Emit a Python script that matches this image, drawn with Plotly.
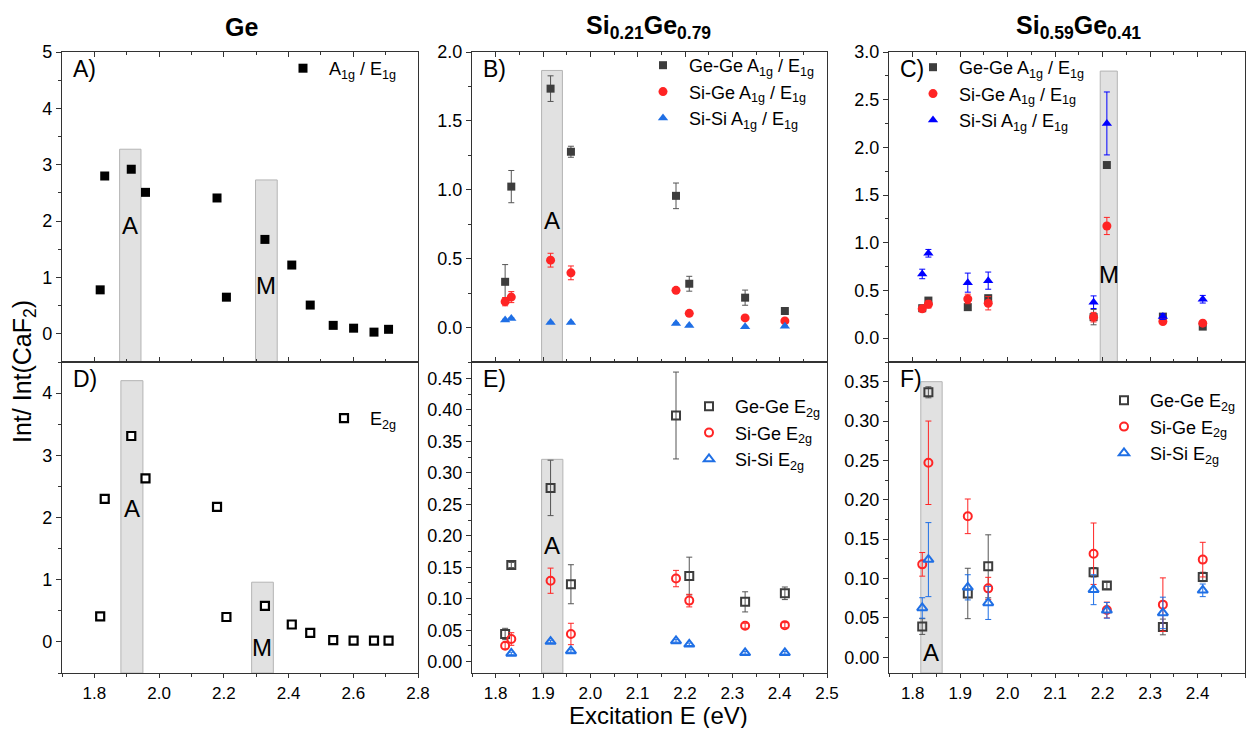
import plotly.graph_objects as go

W, H = 1259, 737
OX, OY = 8, 8            # page body margin of the HTML page
FW, FH = W - 2 * OX, H - 2 * OY

# ---------------- data ----------------
# Pure Ge (panels A, D)
ge_x = [1.818, 1.832, 1.914, 1.958, 2.179, 2.208, 2.327, 2.410, 2.467, 2.538, 2.601, 2.664, 2.709]
ge_a1g = [0.78, 2.80, 2.92, 2.51, 2.41, 0.65, 1.675, 1.22, 0.51, 0.15, 0.10, 0.03, 0.08]
ge_e2g = [0.41, 2.30, 3.31, 2.63, 2.17, 0.40, 0.58, 0.28, 0.145, 0.027, 0.02, 0.02, 0.02]

# Alloys: excitation energies
alloy_x = [1.820, 1.833, 1.916, 1.959, 2.181, 2.209, 2.327, 2.411]

# Si0.21Ge0.79 A1g/E1g (panel B)
b_gege = [0.332, 1.023, 1.734, 1.276, 0.956, 0.318, 0.217, 0.120]
b_gege_err = [0.125, 0.117, 0.093, 0.040, 0.093, 0.054, 0.055, 0.010]
b_sige = [0.188, 0.221, 0.489, 0.397, 0.270, 0.103, 0.070, 0.048]
b_sige_err = [0.030, 0.040, 0.050, 0.050, 0.010, 0.010, 0.010, 0.010]
b_sisi = [0.055, 0.065, 0.036, 0.036, 0.030, 0.015, 0.005, 0.010]
b_sisi_err = [0.005, 0.005, 0.004, 0.004, 0.004, 0.003, 0.003, 0.003]

# Si0.59Ge0.41 A1g/E1g (panel C)
c_gege = [0.314, 0.394, 0.325, 0.419, 0.220, 1.815, 0.226, 0.121]
c_gege_err = [0.020, 0.020, 0.020, 0.030, 0.080, 0.020, 0.020, 0.020]
c_sige = [0.307, 0.356, 0.411, 0.366, 0.220, 1.176, 0.174, 0.157]
c_sige_err = [0.030, 0.040, 0.050, 0.070, 0.050, 0.090, 0.020, 0.020]
c_sisi = [0.673, 0.890, 0.582, 0.603, 0.377, 2.251, 0.226, 0.408]
c_sisi_err = [0.050, 0.040, 0.100, 0.090, 0.066, 0.330, 0.030, 0.040]

# Si0.21Ge0.79 E2g (panel E)
e_gege = [0.044, 0.1535, 0.276, 0.123, 0.391, 0.136, 0.095, 0.1086]
e_gege_err = [0.009, 0.004, 0.044, 0.031, 0.069, 0.030, 0.016, 0.010]
e_sige = [0.0254, 0.036, 0.1286, 0.044, 0.132, 0.097, 0.057, 0.058]
e_sige_err = [0.005, 0.010, 0.020, 0.017, 0.013, 0.010, 0.004, 0.004]
e_sisi_x = [1.833, 1.916, 1.959, 2.181, 2.209, 2.327, 2.411]
e_sisi = [0.013, 0.032, 0.017, 0.033, 0.0276, 0.014, 0.014]
e_sisi_err = [0.002, 0.002, 0.002, 0.002, 0.002, 0.002, 0.002]

# Si0.59Ge0.41 E2g (panel F)
f_gege = [0.039, 0.3365, 0.081, 0.1155, 0.108, 0.091, 0.0385, 0.102]
f_gege_err = [0.010, 0.007, 0.032, 0.040, 0.006, 0.004, 0.010, 0.006]
f_sige = [0.118, 0.247, 0.179, 0.0875, 0.1315, 0.060, 0.0668, 0.124]
f_sige_err = [0.015, 0.053, 0.022, 0.014, 0.039, 0.010, 0.034, 0.022]
f_sisi = [0.0626, 0.124, 0.0888, 0.069, 0.0858, 0.0596, 0.0563, 0.085]
f_sisi_err = [0.013, 0.047, 0.016, 0.021, 0.019, 0.010, 0.020, 0.008]

# Highlight bands: (panel, x0, x1, top, label, label_x, label_y)
bands = [
    ("A", 1.878, 1.944, 3.275, "A", 1.911, 1.92),
    ("A", 2.298, 2.365, 2.73, "M", 2.331, 0.86),
    ("D", 1.882, 1.950, 4.20, "A", 1.916, 2.14),
    ("D", 2.286, 2.353, 0.96, "M", 2.319, -0.09),
    ("B", 1.897, 1.941, 1.866, "A", 1.920, 0.78),
    ("E", 1.897, 1.942, 0.3214, "A", 1.920, 0.185),
    ("C", 2.195, 2.231, 2.80, "M", 2.213, 0.663),
    ("F", 1.817, 1.862, 0.350, "A", 1.839, 0.006),
]

col_titles = ["Ge", "Si<sub>0.21</sub>Ge<sub>0.79</sub>", "Si<sub>0.59</sub>Ge<sub>0.41</sub>"]

# ---------------- layout geometry ----------------
FONT = "Arial, Liberation Sans, sans-serif"
cols_px = [(62, 418), (472, 827), (889, 1245)]
title_cx = [242, 648, 1078]
top_px = (52, 362)
bot_px = (362, 673)

def fx(px):
    return (px - OX) / FW

def fy(py):
    return 1 - (py - OY) / FH

panels = {
    "A": dict(ax=1, col=0, row=0, xr=[1.7, 2.8], yr=[-0.5, 5.0], xd=0.2, xm=0.1, yd=1, ym=0.5),
    "B": dict(ax=2, col=1, row=0, xr=[1.75, 2.5], yr=[-0.25, 2.0], xd=0.1, xm=0.05, yd=0.5, ym=0.25),
    "C": dict(ax=3, col=2, row=0, xr=[1.75, 2.5], yr=[-0.25, 3.0], xd=0.1, xm=0.05, yd=0.5, ym=0.25),
    "D": dict(ax=4, col=0, row=1, xr=[1.7, 2.8], yr=[-0.5, 4.5], xd=0.2, xm=0.1, yd=1, ym=0.5),
    "E": dict(ax=5, col=1, row=1, xr=[1.75, 2.5], yr=[-0.018, 0.476], xd=0.1, xm=0.05, yd=0.05, ym=0.025),
    "F": dict(ax=6, col=2, row=1, xr=[1.75, 2.5], yr=[-0.02, 0.375], xd=0.1, xm=0.05, yd=0.05, ym=0.025),
}
ytickfmt = {"A": "d", "D": "d", "B": ".1f", "C": ".1f", "E": ".2f", "F": ".2f"}

GRAY = "#3d3d3d"
RED = "#ff2424"
BLUE = "#1f6fe5"
PBLUE = "#0000ff"
AXC = "#333333"

fig = go.Figure()

def axref(p):
    n = panels[p]["ax"]
    return ("x" if n == 1 else f"x{n}"), ("y" if n == 1 else f"y{n}")

def add(p, x, y, err, name, symbol, color, legend, size=8, lw=0, fill=None, ecolor=None):
    xa, ya = axref(p)
    mk = dict(symbol=symbol, size=size, color=color)
    if fill is not None:
        mk = dict(symbol=symbol, size=size, color=fill, line=dict(color=color, width=lw))
    elif lw:
        mk["line"] = dict(color=color, width=lw)
    tr = go.Scatter(x=x, y=y, mode="markers", name=name, marker=mk,
                    xaxis=xa, yaxis=ya, legend=legend, showlegend=True,
                    legendgroup=p + name)
    if err is not None:
        tr.error_y = dict(type="data", array=err, visible=True, color=ecolor or color,
                          thickness=1, width=3)
    fig.add_trace(tr)

# Panel A & D
add("A", ge_x, ge_a1g, None, "A<sub>1g</sub> / E<sub>1g</sub>", "square", "black", "legend", size=9)
add("D", ge_x, ge_e2g, None, "E<sub>2g</sub>", "square", "black", "legend4", size=8, lw=2.2, fill="white")

# Panel B
add("B", alloy_x, b_gege, b_gege_err, "Ge-Ge A<sub>1g</sub> / E<sub>1g</sub>", "square", GRAY, "legend2", ecolor="#555555")
add("B", alloy_x, b_sige, b_sige_err, "Si-Ge A<sub>1g</sub> / E<sub>1g</sub>", "circle", RED, "legend2", size=9)
add("B", alloy_x, b_sisi, b_sisi_err, "Si-Si A<sub>1g</sub> / E<sub>1g</sub>", "triangle-up", BLUE, "legend2", size=9)

# Panel C
add("C", alloy_x, c_gege, c_gege_err, "Ge-Ge A<sub>1g</sub> / E<sub>1g</sub>", "square", GRAY, "legend3", ecolor="#555555")
add("C", alloy_x, c_sige, c_sige_err, "Si-Ge A<sub>1g</sub> / E<sub>1g</sub>", "circle", RED, "legend3", size=9)
add("C", alloy_x, c_sisi, c_sisi_err, "Si-Si A<sub>1g</sub> / E<sub>1g</sub>", "triangle-up", PBLUE, "legend3", size=9)

# Panel E
add("E", alloy_x, e_gege, e_gege_err, "Ge-Ge E<sub>2g</sub>", "square-open", GRAY, "legend5", lw=2, ecolor="#555555")
add("E", alloy_x, e_sige, e_sige_err, "Si-Ge E<sub>2g</sub>", "circle-open", RED, "legend5", lw=2)
add("E", e_sisi_x, e_sisi, e_sisi_err, "Si-Si E<sub>2g</sub>", "triangle-up-open", BLUE, "legend5", size=9, lw=2)

# Panel F
add("F", alloy_x, f_gege, f_gege_err, "Ge-Ge E<sub>2g</sub>", "square-open", GRAY, "legend6", lw=2, ecolor="#555555")
add("F", alloy_x, f_sige, f_sige_err, "Si-Ge E<sub>2g</sub>", "circle-open", RED, "legend6", lw=2)
add("F", alloy_x, f_sisi, f_sisi_err, "Si-Si E<sub>2g</sub>", "triangle-up-open", BLUE, "legend6", size=9, lw=2)

layout = dict(
    width=FW, height=FH,
    margin=dict(l=0, r=0, t=0, b=0, autoexpand=False),
    paper_bgcolor="white", plot_bgcolor="white",
    font=dict(family=FONT, size=18, color="black"),
    shapes=[], annotations=[],
)

TICKF = dict(family=FONT, size=18, color="black")

for p, d in panels.items():
    n = d["ax"]
    c0, c1 = cols_px[d["col"]]
    r0, r1 = top_px if d["row"] == 0 else bot_px
    xk = "xaxis" if n == 1 else f"xaxis{n}"
    yk = "yaxis" if n == 1 else f"yaxis{n}"
    xa, ya = axref(p)
    top = d["row"] == 0
    layout[xk] = dict(
        domain=[fx(c0), fx(c1)], range=d["xr"], anchor=ya,
        showline=True, linecolor=AXC, linewidth=1.3, mirror="ticks" if top else True,
        showgrid=False, zeroline=False,
        tickmode="linear", tick0=1.8, dtick=d["xd"],
        ticks="inside" if top else "outside", ticklen=5 if top else 4, tickwidth=1.2, tickcolor=AXC,
        showticklabels=not top, tickformat=".1f",
        tickfont=TICKF if top else dict(family=FONT, size=17, color="black"),
        minor=dict(tick0=1.8, dtick=d["xm"], ticks="inside" if top else "outside",
                   ticklen=3, tickwidth=1.1, tickcolor=AXC),
    )
    layout[yk] = dict(
        domain=[fy(r1), fy(r0)], range=d["yr"], anchor=xa,
        showline=True, linecolor=AXC, linewidth=1.3, mirror=True,
        showgrid=False, zeroline=False,
        tickmode="linear", tick0=0, dtick=d["yd"],
        ticks="outside", ticklen=5, tickwidth=1.2, tickcolor=AXC,
        tickformat=ytickfmt[p],
        tickfont=TICKF,
        minor=dict(tick0=0, dtick=d["ym"], ticks="outside", ticklen=3, tickwidth=1.1, tickcolor=AXC),
    )
    # panel letter
    layout["annotations"].append(dict(
        text=p + ")", xref="paper", yref="paper", x=fx(c0 + 9), y=fy(r0 + 17),
        xanchor="left", yanchor="middle", showarrow=False,
        font=dict(family=FONT, size=23, color="black")))

for (p, x0, x1, top_v, lab, lx, ly) in bands:
    xa, ya = axref(p)
    ymin = panels[p]["yr"][0]
    layout["shapes"].append(dict(
        type="rect", xref=xa, yref=ya, x0=x0, x1=x1, y0=ymin, y1=top_v,
        fillcolor="#e1e1e1", line=dict(color="#b4b4b4", width=1), layer="below"))
    layout["annotations"].append(dict(
        text=lab, xref=xa, yref=ya, x=lx, y=ly, showarrow=False,
        xanchor="center", yanchor="middle",
        font=dict(family=FONT, size=24, color="black")))

# column titles
for i, t in enumerate(col_titles):
    layout["annotations"].append(dict(
        text="<b>" + t + "</b>", xref="paper", yref="paper", x=fx(title_cx[i]), y=fy(27),
        xanchor="center", yanchor="middle", showarrow=False,
        font=dict(family=FONT, size=25, color="black")))

# axis titles
layout["annotations"].append(dict(
    text="Excitation E (eV)", xref="paper", yref="paper", x=fx(658), y=0,
    xanchor="center", yanchor="bottom", showarrow=False, borderpad=0,
    height=25, valign="middle",
    font=dict(family=FONT, size=24, color="black")))
layout["annotations"].append(dict(
    text="Int/ Int(CaF<sub>2</sub>)", xref="paper", yref="paper", x=fx(24), y=fy(372),
    xanchor="center", yanchor="middle", showarrow=False, textangle=-90,
    font=dict(family=FONT, size=25, color="black")))

# legends
def leg(px, py, size=18):
    return dict(x=fx(px), y=fy(py), xanchor="left", yanchor="top",
                bgcolor="rgba(0,0,0,0)", borderwidth=0,
                font=dict(family=FONT, size=size, color="black"),
                itemsizing="trace", itemwidth=42, traceorder="grouped", tracegroupgap=0)

layout["legend"] = leg(277, 50)
layout["legend4"] = leg(318, 400)
layout["legend2"] = leg(637, 47)
layout["legend3"] = leg(907, 49)
layout["legend5"] = leg(683, 388)
layout["legend6"] = leg(1098, 382)

fig.update_layout(**layout)
fig.write_html("out.html")
